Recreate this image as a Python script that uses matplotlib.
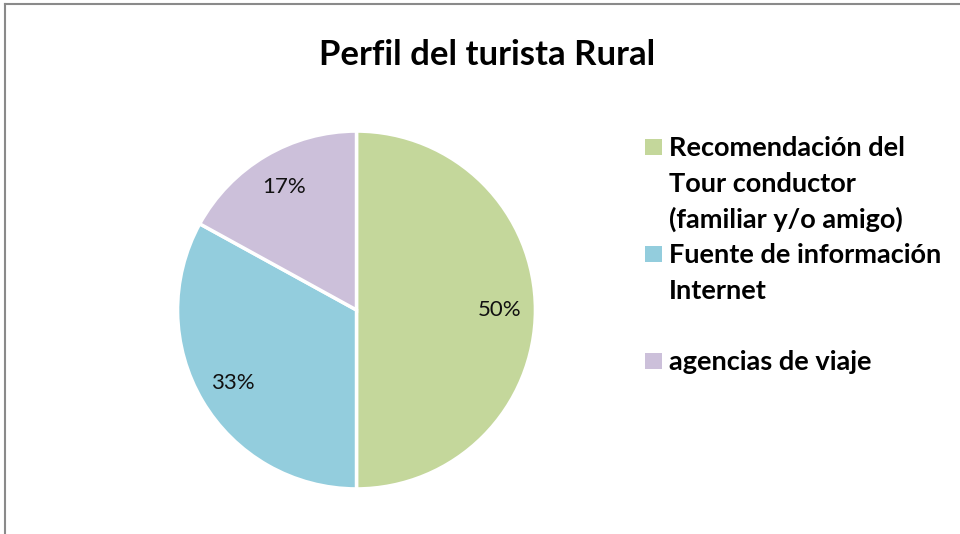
import matplotlib.pyplot as plt
from matplotlib.patches import Rectangle
from matplotlib.lines import Line2D

labels = [["Recomendación del", "Tour conductor", "(familiar y/o amigo)"],
          ["Fuente de información", "Internet"],
          ["agencias de viaje"]]
values = [50, 33, 17]
colors = ["#C4D79B", "#93CDDD", "#CCC0DA"]

W, H = 960, 534
fig = plt.figure(figsize=(9.6, 5.34), dpi=100)
plt.rcParams['font.family'] = ['Lato', 'DejaVu Sans']

def fx(x): return x / W
def fy(y): return 1 - y / H

# frame (top and left only visible)
fig.add_artist(Line2D([fx(5), 1], [fy(4), fy(4)], color="#8a8a8a", lw=1.5))
fig.add_artist(Line2D([fx(5), fx(5)], [fy(4), 0], color="#8a8a8a", lw=1.5))

cx, cy, r = 356.5, 310, 182.5
ax = fig.add_axes([fx(cx - r), fy(cy + r), 2 * r / W, 2 * r / H])
ax.pie(values, colors=colors, startangle=90, counterclock=False,
       autopct="%d%%", pctdistance=0.8,
       wedgeprops=dict(edgecolor="white", linewidth=2.5),
       textprops=dict(fontsize=16, color="#111111"))
ax.set_xlim(-1.02, 1.02)
ax.set_ylim(-1.02, 1.02)
ax.set_aspect("equal")
ax.axis("off")

fig.text(fx(487), fy(65), "Perfil del turista Rural", ha="center", va="baseline",
         fontsize=25, fontweight="bold")

# legend
first_baselines = [156, 263, 370]
for lines, col, yb in zip(labels, colors, first_baselines):
    fig.add_artist(Rectangle((fx(645), fy(yb - 1)), 17 / W, 16 / H,
                             transform=fig.transFigure, facecolor=col, edgecolor="none"))
    for i, ln in enumerate(lines):
        fig.text(fx(669), fy(yb + i * 36), ln, ha="left", va="baseline",
                 fontsize=19.5, fontweight="bold")

fig.savefig("out.png", dpi=100)
